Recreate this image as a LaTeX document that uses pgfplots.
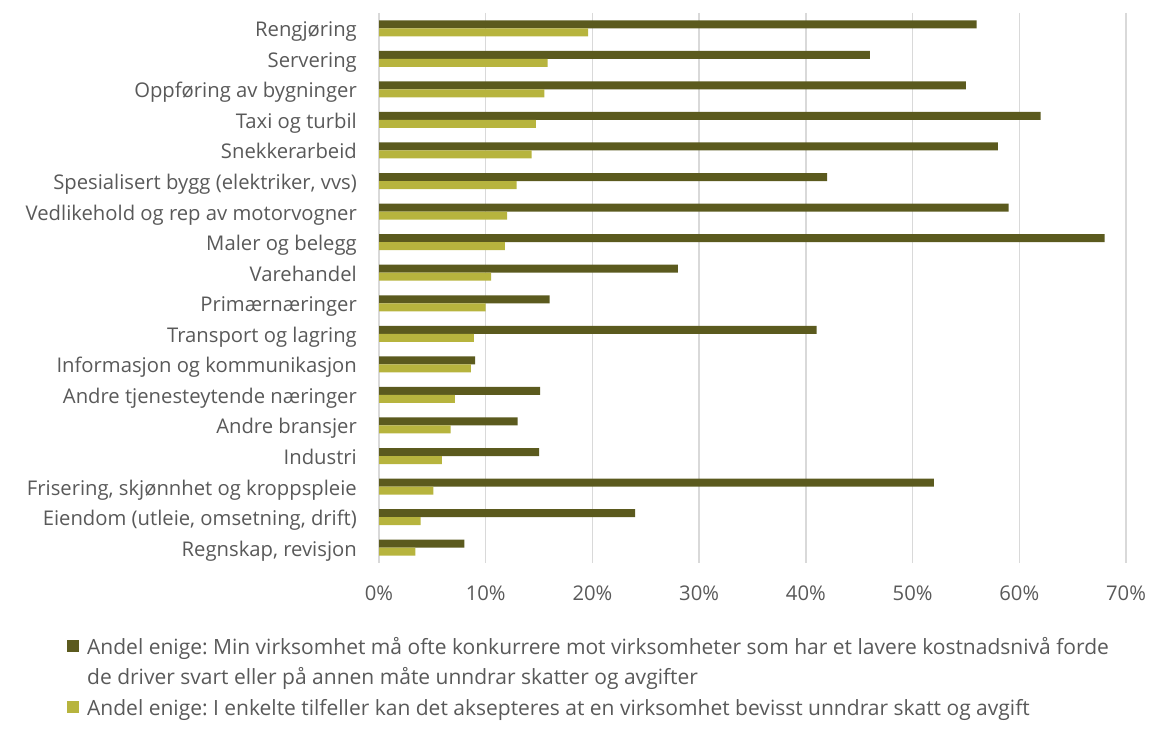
\documentclass[border=0pt]{standalone}
\usepackage{fontspec}
\setmainfont{Open Sans}
\usepackage{pgfplots}
\pgfplotsset{compat=1.18}
\definecolor{darkol}{HTML}{5B5A1E}
\definecolor{lightol}{HTML}{B7B43E}
\definecolor{txt}{HTML}{595959}
\definecolor{gridc}{HTML}{D9D9D9}
\frenchspacing
\begin{document}
\begin{tikzpicture}[x=1bp,y=1bp]
\path[use as bounding box] (0,0) rectangle (1150,731);
\begin{axis}[
  at={(379bp,168bp)}, anchor=south west,
  scale only axis, width=747bp, height=550bp,
  xbar, bar width=8bp,
  xmin=0, xmax=70, ymin=0.5, ymax=18.5, y dir=reverse,
  xtick={0,10,...,70},
  xticklabel={\pgfmathprintnumber{\tick}\%},
  /pgf/number format/assume math mode=true,
  ytick={1,...,18},
  yticklabels={Rengjøring, Servering, Oppføring av bygninger, Taxi og turbil, Snekkerarbeid, {Spesialisert bygg (elektriker, vvs)}, Vedlikehold og rep av motorvogner, Maler og belegg, Varehandel, Primærnæringer, Transport og lagring, Informasjon og kommunikasjon, Andre tjenesteytende næringer, Andre bransjer, Industri, {Frisering, skjønnhet og kroppspleie}, {Eiendom (utleie, omsetning, drift)}, {Regnskap, revisjon}},
  axis line style={draw=none},
  major tick length=0pt,
  xmajorgrids, ymajorgrids=false,
  major grid style={gridc, line width=1.5bp},
  ticklabel style={font=\fontsize{20.25bp}{24bp}\selectfont, text=txt, inner sep=0pt},
  yticklabel style={anchor=base east, yshift=-8.5bp},
  yticklabel shift=22bp,
  xticklabel shift=23bp,
  legend style={at={(-0.4177,-0.14)}, anchor=north west, draw=none, fill=none,
    inner sep=0pt, row sep=11bp, column sep=8bp,
    font=\fontsize{21bp}{25bp}\selectfont, text=txt,
    nodes={inner sep=0pt, text height=14bp, text depth=5bp}},
  legend cell align=left,
]
\addplot[fill=darkol, draw=none, bar shift=4bp,
  legend image code/.code={\fill[darkol] (0bp,-2bp) rectangle (12bp,10bp);}] coordinates {
(56,1) (46,2) (55,3) (62,4) (58,5) (42,6) (59,7) (68,8) (28,9) (16,10)
(41,11) (9,12) (15.1,13) (13,14) (15,15) (52,16) (24,17) (8,18)};
\addlegendentry{Andel enige: Min virksomhet må ofte konkurrere mot virksomheter som har et lavere kostnadsnivå forde}
\addlegendimage{empty legend}
\addlegendentry{de driver svart eller på annen måte unndrar skatter og avgifter}
\addplot[fill=lightol, draw=none, bar shift=-4bp,
  legend image code/.code={\fill[lightol] (0bp,-2bp) rectangle (12bp,10bp);}] coordinates {
(19.6,1) (15.8,2) (15.5,3) (14.7,4) (14.3,5) (12.9,6) (12.0,7) (11.8,8) (10.5,9) (10.0,10)
(8.9,11) (8.6,12) (7.1,13) (6.7,14) (5.9,15) (5.1,16) (3.9,17) (3.4,18)};
\addlegendentry[text height=15bp]{Andel enige: I enkelte tilfeller kan det aksepteres at en virksomhet bevisst unndrar skatt og avgift}
\end{axis}
\end{tikzpicture}
\end{document}
